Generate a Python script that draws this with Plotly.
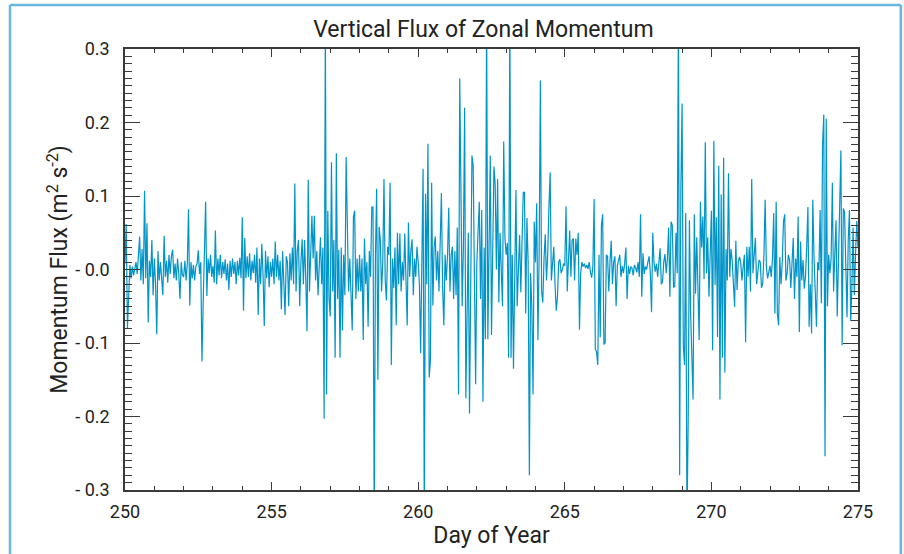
import numpy as np
import plotly.graph_objects as go

# Hourly samples of the momentum flux (m^2 s^-2), one list per day of year
day250 = [0.008, 0.062, -0.080, -0.043, 0.006, -0.012, 0.004, -0.008, 0.003, 0.010, -0.006, 0.015, 0.045, -0.015, 0.028, -0.020, 0.107, -0.012, 0.063, -0.072, 0.012, -0.010, 0.040, -0.035]
day251 = [0.015, -0.020, -0.088, 0.025, -0.015, 0.010, -0.008, -0.035, 0.046, -0.010, 0.012, -0.018, 0.020, -0.006, 0.018, 0.027, -0.012, 0.008, -0.015, 0.015, -0.005, -0.040, 0.010, -0.008]
day252 = [-0.010, 0.012, -0.015, 0.008, 0.082, -0.049, 0.010, -0.012, 0.006, -0.015, 0.004, 0.008, 0.026, -0.006, 0.010, -0.125, -0.045, 0.022, 0.092, -0.036, 0.015, -0.005, 0.020, -0.010]
day253 = [0.005, -0.018, 0.053, -0.020, 0.015, -0.008, 0.020, -0.012, 0.010, -0.006, 0.014, -0.015, 0.008, -0.028, 0.012, -0.010, 0.015, -0.006, 0.010, -0.020, 0.012, -0.008, 0.016, -0.012]
day254 = [0.071, -0.056, 0.043, -0.012, 0.018, -0.010, 0.022, -0.015, 0.012, -0.005, 0.020, -0.018, 0.030, -0.062, 0.015, -0.020, 0.035, -0.008, -0.077, 0.025, -0.012, 0.018, -0.024, 0.010]
day255 = [-0.010, 0.015, -0.020, 0.038, -0.010, 0.020, -0.015, 0.012, -0.054, 0.025, -0.012, -0.062, 0.018, 0.010, -0.050, 0.022, -0.015, 0.030, -0.020, 0.117, -0.030, 0.025, 0.040, -0.050]
day256 = [0.010, 0.041, -0.020, 0.040, -0.015, -0.084, 0.122, -0.030, 0.020, 0.073, 0.015, 0.073, -0.015, 0.025, -0.035, 0.012, 0.044, -0.020, 0.030, -0.203, 0.340, -0.170, 0.080, -0.040]
day257 = [-0.064, 0.146, -0.030, 0.040, -0.120, 0.158, -0.040, 0.027, -0.120, 0.030, -0.083, 0.020, -0.035, 0.153, 0.025, -0.030, 0.015, -0.025, -0.083, 0.072, 0.080, -0.040, 0.015, -0.030]
day258 = [0.020, -0.030, 0.015, -0.096, 0.042, -0.020, 0.010, -0.078, 0.025, -0.010, 0.085, 0.085, -0.350, 0.020, 0.110, -0.150, 0.058, 0.040, -0.030, 0.010, 0.123, -0.015, -0.042, 0.031]
day259 = [0.020, 0.118, -0.130, 0.015, -0.025, 0.030, -0.076, 0.050, -0.020, 0.049, -0.030, 0.010, -0.015, 0.049, -0.020, -0.076, 0.064, -0.010, 0.025, 0.041, -0.035, 0.015, -0.010, 0.031]
day260 = [0.010, -0.020, -0.114, 0.020, 0.137, -0.350, 0.103, -0.020, 0.171, -0.147, -0.124, 0.118, -0.049, 0.030, 0.045, -0.015, 0.025, -0.030, 0.040, 0.104, -0.025, -0.076, 0.020, -0.015]
day261 = [0.020, 0.084, -0.030, 0.020, 0.031, -0.040, 0.025, -0.035, 0.057, -0.170, 0.260, 0.115, -0.050, 0.030, 0.220, -0.175, -0.019, 0.050, -0.196, 0.030, 0.155, 0.141, -0.060, -0.156]
day262 = [0.010, 0.060, 0.092, -0.040, 0.081, -0.180, 0.030, -0.095, 0.350, -0.095, 0.040, 0.155, -0.089, 0.020, 0.140, 0.116, 0.000, 0.123, -0.045, 0.050, 0.010, -0.050, 0.174, 0.043]
day263 = [0.020, 0.036, -0.120, 0.350, -0.120, 0.020, -0.135, 0.030, 0.108, -0.050, 0.020, 0.047, -0.031, 0.040, 0.105, 0.105, -0.060, 0.070, 0.010, -0.280, -0.005, -0.050, -0.170, 0.065]
day264 = [0.010, 0.090, -0.096, 0.020, 0.257, -0.030, -0.045, 0.015, 0.048, -0.015, 0.020, 0.084, 0.132, -0.015, 0.010, 0.031, -0.020, -0.056, -0.037, 0.010, 0.014, -0.005, 0.000, 0.008]
day265 = [0.005, 0.086, -0.030, 0.015, 0.053, -0.010, 0.040, 0.042, -0.015, 0.042, 0.020, 0.050, -0.082, -0.005, 0.010, 0.004, 0.008, 0.002, 0.006, 0.001, 0.010, -0.004, -0.011, 0.005]
day266 = [0.096, -0.108, -0.112, -0.130, 0.020, -0.092, 0.060, 0.075, -0.102, -0.100, 0.020, 0.018, -0.030, 0.010, 0.039, -0.020, 0.010, 0.018, -0.050, 0.005, 0.015, 0.020, -0.010, 0.005]
day267 = [-0.005, 0.008, 0.030, -0.040, 0.005, -0.006, 0.004, 0.002, -0.008, 0.006, 0.002, -0.004, 0.010, -0.010, 0.075, -0.037, 0.022, -0.006, 0.004, 0.000, 0.010, 0.018, -0.005, -0.058]
day268 = [0.050, 0.010, -0.003, 0.008, -0.010, 0.015, 0.029, -0.020, -0.017, 0.010, 0.021, -0.005, 0.015, 0.057, -0.037, 0.065, 0.060, -0.024, -0.023, 0.050, -0.005, 0.350, -0.280, 0.110]
day269 = [0.226, -0.103, -0.130, 0.077, -0.350, -0.205, 0.067, -0.060, -0.110, -0.177, 0.075, -0.033, 0.044, -0.050, -0.096, 0.092, 0.030, 0.072, -0.013, 0.173, -0.005, 0.044, -0.037, 0.020]
day270 = [0.080, -0.110, 0.175, -0.021, 0.071, -0.092, 0.141, -0.177, 0.102, -0.120, 0.152, -0.140, 0.028, -0.015, 0.131, -0.010, 0.028, 0.013, -0.020, -0.051, 0.039, -0.028, 0.010, 0.017]
day271 = [0.010, -0.015, 0.004, 0.020, -0.099, 0.031, -0.010, 0.031, -0.030, 0.123, -0.005, 0.015, 0.043, -0.020, -0.005, 0.013, 0.010, -0.025, -0.019, 0.020, 0.095, 0.004, -0.012, -0.005]
day272 = [0.005, -0.010, 0.015, 0.077, -0.060, 0.092, -0.060, -0.076, 0.017, -0.020, 0.010, 0.065, 0.075, -0.015, -0.005, 0.020, 0.013, -0.025, 0.010, 0.043, -0.040, 0.015, -0.010, 0.072]
day273 = [-0.085, 0.038, -0.015, 0.013, -0.026, -0.010, 0.030, 0.085, -0.078, -0.020, -0.087, 0.095, 0.017, -0.030, -0.078, 0.010, -0.001, 0.081, -0.046, 0.170, 0.211, -0.254, 0.205, -0.050]
day274 = [0.020, -0.005, 0.015, 0.118, -0.030, 0.020, 0.067, -0.064, 0.030, 0.083, 0.162, -0.103, 0.083, 0.078, -0.015, -0.065, 0.040, 0.081, -0.070, -0.024, 0.057, -0.035, 0.022, 0.066]
day275 = [0.030]

days = [250, 251, 252, 253, 254, 255, 256, 257, 258, 259, 260, 261, 262,
        263, 264, 265, 266, 267, 268, 269, 270, 271, 272, 273, 274, 275]
daily = [day250, day251, day252, day253, day254, day255, day256, day257, day258,
         day259, day260, day261, day262, day263, day264, day265, day266, day267,
         day268, day269, day270, day271, day272, day273, day274, day275]

ytick_vals = [0.3, 0.2, 0.1, 0.0, -0.1, -0.2, -0.3]
ytick_text = ["0.3", "0.2", "0.1", "- 0.0", "- 0.1", "- 0.2", "- 0.3"]
xtick_vals = [250, 255, 260, 265, 270, 275]

t, flux = [], []
for d, vals in zip(days, daily):
    for i, v in enumerate(vals):
        t.append(d + i / 24.0)
        flux.append(v)

FONT = "Roboto, Liberation Sans Narrow, sans-serif"
AX = "#3a3a3a"

fig = go.Figure()
fig.add_trace(go.Scatter(x=t, y=flux, mode="lines",
                         line=dict(color="#0094c8", width=1.2), showlegend=False,
                         hoverinfo="skip"))

fig.update_layout(
    width=904, height=554,
    margin=dict(l=125, r=46, t=49, b=64, autoexpand=False),
    paper_bgcolor="white", plot_bgcolor="white",
    font=dict(family=FONT, color="#222222", size=18),
    title=dict(text="Vertical Flux of Zonal Momentum", x=0.489, xref="paper",
               xanchor="center", y=0.947, yref="container", yanchor="middle",
               automargin=False,
               font=dict(size=23, family=FONT, color="#222222")),
)
fig.update_xaxes(range=[250, 275], tickvals=xtick_vals, ticks="inside", ticklen=8,
                 tickwidth=1.2, tickcolor=AX, showline=True, linecolor=AX, linewidth=1.5,
                 mirror="ticks", showgrid=False, zeroline=False, automargin=False,
                 minor=dict(dtick=1, ticks="inside", ticklen=4, tickcolor=AX, tickwidth=1.2),
                 ticklabelstandoff=5,
                 title=dict(text="Day of Year", font=dict(size=23), standoff=2))
fig.update_yaxes(range=[-0.3, 0.3], tickvals=ytick_vals, ticktext=ytick_text,
                 ticks="inside", ticklen=15, tickwidth=1.2, tickcolor=AX,
                 showline=True, linecolor=AX, linewidth=1.5, mirror="ticks",
                 showgrid=False, zeroline=False, automargin=False,
                 minor=dict(dtick=0.01, tick0=0, ticks="inside", ticklen=7, tickcolor=AX, tickwidth=1.2),
                 ticklabelstandoff=10,
                 title=dict(text="Momentum Flux (m<sup>2</sup> s<sup>-2</sup>)",
                            font=dict(size=23), standoff=1))

# light-grey strip outside the right edge of the frame
fig.add_shape(type="rect", xref="paper", yref="paper", x0=1.0595, x1=1.08, y0=-0.2, y1=1.2,
              fillcolor="#f4f4f4", line=dict(width=0), layer="below")
# light-blue frame around the figure
for x0, y0, x1, y1 in [(-0.1569, -0.2, -0.1569, 1.0998), (-0.1569, 1.0998, 1.0584, 1.0998),
                       (1.0584, 1.0998, 1.0584, -0.2)]:
    fig.add_shape(type="line", xref="paper", yref="paper", x0=x0, y0=y0, x1=x1, y1=y1,
                  line=dict(color="#6bb6dc", width=2.5), layer="below")

fig.write_html("out.html", config={"displayModeBar": False},
               post_script="document.body.style.margin='0';")
